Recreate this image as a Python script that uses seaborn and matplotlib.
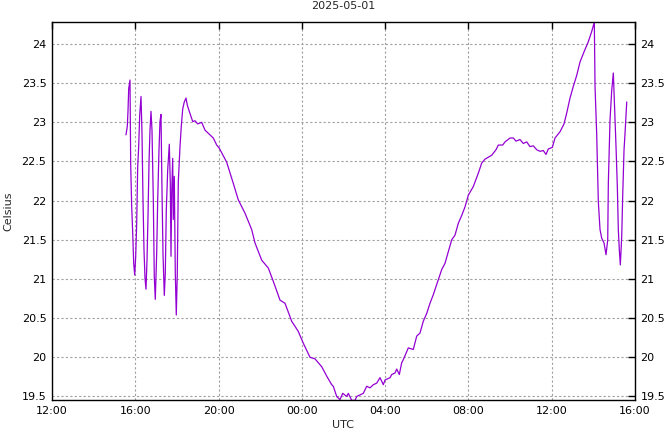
import pandas as pd
import seaborn as sns
import matplotlib.pyplot as plt
import matplotlib.dates as mdates
from matplotlib.ticker import FuncFormatter

# hours after 2025-04-30 12:00 UTC
hours = [3.554, 3.617, 3.650, 3.684, 3.746, 3.780, 3.828, 3.876, 3.924, 3.972,
         4.020, 4.068, 4.116, 4.164, 4.212, 4.275, 4.323, 4.371, 4.419, 4.467,
         4.515, 4.563, 4.611, 4.659, 4.707, 4.755, 4.803, 4.866, 4.913, 4.961,
         5.029, 5.077, 5.139, 5.187, 5.235, 5.283, 5.331, 5.394, 5.442, 5.490,
         5.557, 5.634, 5.682, 5.716, 5.749, 5.797, 5.826, 5.874, 5.922, 5.970,
         6.018, 6.066, 6.148, 6.210, 6.278, 6.354, 6.436, 6.498, 6.594, 6.758,
         6.868, 6.998, 7.190, 7.349, 7.507, 7.747, 7.910, 8.035,
         8.391, 8.708, 8.948, 9.270, 9.592, 9.750, 10.072, 10.389, 10.629, 10.951,
         11.191, 11.513, 11.830, 12.070, 12.392, 12.632, 12.954, 13.194, 13.434,
         13.511, 13.674, 13.833, 13.962, 14.154, 14.231, 14.395, 14.553, 14.635, 14.793,
         14.952, 15.115, 15.274, 15.432, 15.595, 15.754, 15.913, 15.994, 16.234, 16.316,
         16.474, 16.556, 16.681, 16.796, 16.873, 17.113, 17.353, 17.516, 17.675, 17.833,
         17.997, 18.155, 18.314, 18.554, 18.717, 18.876, 19.034, 19.197, 19.356, 19.514,
         19.677, 19.836, 19.995,
         20.235, 20.475, 20.638, 20.797, 21.119, 21.325, 21.436, 21.647, 21.758, 21.998,
         22.156, 22.286, 22.478, 22.637, 22.800, 22.958, 23.117, 23.280, 23.439, 23.597,
         23.727, 23.837, 24.030, 24.159, 24.400, 24.592, 24.722, 24.880, 25.039, 25.202,
         25.360, 25.553, 25.759, 25.922, 26.047, 26.081, 26.162, 26.239, 26.321, 26.403,
         26.513, 26.609, 26.691, 26.720, 26.801, 26.883, 26.960, 27.008, 27.089, 27.152,
         27.200, 27.248, 27.296, 27.363, 27.411, 27.474, 27.522, 27.604]

celsius = [22.84, 22.95, 23.14, 23.43, 23.54, 22.46, 21.92, 21.59, 21.20, 21.05,
           21.29, 21.71, 22.43, 22.69, 23.09, 23.33, 22.86, 22.01, 21.37, 21.01,
           20.87, 21.24, 21.80, 22.48, 22.90, 23.14, 22.90, 22.01, 21.03, 20.74,
           21.33, 22.01, 22.65, 23.01, 23.10, 22.14, 21.33, 20.79, 21.08, 21.88,
           22.39, 22.72, 22.22, 21.29, 22.10, 22.54, 21.76, 22.31, 21.08, 20.54,
           21.08, 22.24, 22.69, 22.95, 23.17, 23.26, 23.31, 23.22, 23.14, 23.01,
           23.02, 22.98, 23.00, 22.90, 22.86, 22.80, 22.71, 22.67,
           22.49, 22.22, 22.01, 21.84, 21.63, 21.46, 21.24, 21.14, 20.97, 20.73,
           20.69, 20.46, 20.33, 20.18, 20.00, 19.98, 19.88, 19.76, 19.65,
           19.63, 19.50, 19.46, 19.54, 19.50, 19.54, 19.45, 19.45, 19.50, 19.52,
           19.54, 19.63, 19.61, 19.65, 19.67, 19.74, 19.65, 19.71, 19.74, 19.78,
           19.80, 19.85, 19.78, 19.93, 19.97, 20.12, 20.10, 20.27, 20.31, 20.46,
           20.56, 20.69, 20.80, 20.99, 21.12, 21.20, 21.35, 21.50, 21.56, 21.71,
           21.81, 21.92, 22.07,
           22.18, 22.35, 22.48, 22.53, 22.58, 22.65, 22.71, 22.71, 22.75, 22.80,
           22.80, 22.76, 22.78, 22.73, 22.75, 22.69, 22.70, 22.65, 22.63, 22.64,
           22.59, 22.66, 22.68, 22.80, 22.88, 22.98, 23.12, 23.31, 23.46, 23.60,
           23.77, 23.90, 24.03, 24.16, 24.28, 23.46, 22.84, 21.99, 21.63, 21.52,
           21.46, 21.31, 21.50, 22.22, 23.03, 23.41, 23.63, 23.29, 22.69, 22.18,
           21.63, 21.37, 21.18, 21.54, 22.07, 22.65, 22.86, 23.26]

start = pd.Timestamp('2025-04-30 12:00')
df = pd.DataFrame({'time': start + pd.to_timedelta(hours, unit='h'),
                   'celsius': celsius})

sns.set_style('white')
plt.rcParams['font.family'] = ['DejaVu Sans']

fig = plt.figure(figsize=(6.64, 4.32), dpi=100)
ax = fig.add_axes([0.0783, 0.0741, 0.8780, 0.8757])

sns.lineplot(data=df, x='time', y='celsius', ax=ax, color='#9400d3',
             linewidth=0.9, estimator=None, sort=False)

ax.set_xlim(start, pd.Timestamp('2025-05-01 16:00'))
ax.set_ylim(19.455, 24.285)
ax.xaxis.set_major_locator(mdates.HourLocator(byhour=[0, 4, 8, 12, 16, 20]))
ax.xaxis.set_major_formatter(mdates.DateFormatter('%H:%M'))
ax.set_yticks([19.5, 20, 20.5, 21, 21.5, 22, 22.5, 23, 23.5, 24])
ax.yaxis.set_major_formatter(FuncFormatter(lambda v, p: '%g' % v))

ax.grid(True, color='#a0a0a0', linestyle=(0, (2, 2)), linewidth=0.8)
for s in ax.spines.values():
    s.set_color('black')
    s.set_linewidth(1)
ax.tick_params(direction='in', top=True, right=True, labelright=True,
               length=5, width=1, labelsize=8, colors='black', pad=4)

ax.set_title('2025-05-01', fontsize=8, pad=9)
ax.set_xlabel('UTC', fontsize=8, labelpad=3)
ax.set_ylabel('Celsius', fontsize=8, labelpad=6)

fig.savefig('out.png', dpi=100)
